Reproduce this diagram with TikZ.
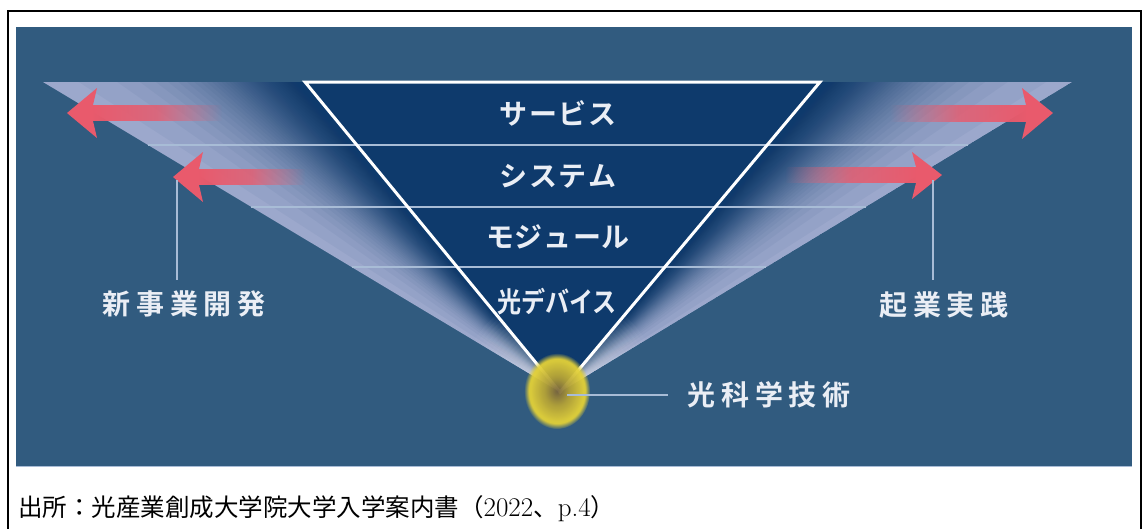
\documentclass[tikz,border=0pt]{standalone}
\usepackage{fontspec}
\usetikzlibrary{fadings}
\newfontfamily\jp{Noto Sans CJK JP}
\IfFontExistsTF{Noto Sans CJK JP Bold}{\newfontfamily\jpb{Noto Sans CJK JP Bold}}{\newfontfamily\jpb{Noto Sans CJK JP}[FakeBold=2]}
\definecolor{panel}{RGB}{49,91,127}
\definecolor{navy}{RGB}{14,58,108}
\definecolor{fanlight}{RGB}{156,168,204}
\definecolor{arrowred}{RGB}{233,90,108}
\definecolor{txt}{RGB}{234,238,245}
\definecolor{divider}{RGB}{168,188,214}
\definecolor{gcen}{RGB}{120,100,60}
\definecolor{gmid}{RGB}{178,160,55}
\definecolor{gring}{RGB}{226,208,56}
\pgfdeclareradialshading{glowshade}{\pgfpoint{0bp}{0bp}}{color(0bp)=(gcen); color(9bp)=(gmid); color(20bp)=(gring); color(50bp)=(gring)}
\tikzfading[name=fadeToRight, left color=transparent!0, right color=transparent!100, middle color=transparent!20]
\tikzfading[name=fadeToLeft, left color=transparent!100, right color=transparent!0, middle color=transparent!20]
\makeatletter
\newcommand\spreadtxt[2]{\@tfor\@ch:=#2\do{\@ch\kern#1}\unkern}
\makeatother
\tikzset{
  lab/.style={text=txt, inner sep=0pt, font=\jpb\fontsize{28}{30}\selectfont},
  leader/.style={draw=divider, line width=1.2pt},
  divline/.style={draw=divider, line width=1.1pt},
  arrowfill/.style={fill=arrowred},
  wedge/.style={fill=navy, fill opacity=0.05},
  lightdisc/.style={fill=white, fill opacity=0.03}
}
\begin{document}
\begin{tikzpicture}[x=1pt,y=-1pt]
\useasboundingbox (0,0) rectangle (1145,528);
\fill[white] (0,0) rectangle (1145,528);
\draw[line width=2pt] (8,11) rectangle (1141,560);
\fill[panel] (16,27) rectangle (1132,466);
\draw[divider, line width=0.8pt] (16,466) -- (1132,466);

\coordinate (A) at (560,392);
\coordinate (TL) at (305,82);
\coordinate (TR) at (820,82);
\coordinate (FL) at (43,82);
\coordinate (FR) at (1072,82);

% left fan
\begin{scope}
\clip (FL) -- (TL) -- (A) -- cycle;
\fill[fanlight] (FL) -- (TL) -- (A) -- cycle;
\foreach \k in {1,...,58}
  \fill[wedge] (A) -- ({305-min(270,55.6*ln(58/\k)+0.5)},82) -- (TL) -- cycle;
\foreach \r in {4,8,...,100}
  \fill[lightdisc] (A) circle (\r);
\end{scope}
% right fan
\begin{scope}
\clip (FR) -- (TR) -- (A) -- cycle;
\fill[fanlight] (FR) -- (TR) -- (A) -- cycle;
\foreach \k in {1,...,58}
  \fill[wedge] (A) -- ({820+min(270,55.6*ln(58/\k)+0.5)},82) -- (TR) -- cycle;
\foreach \r in {4,8,...,100}
  \fill[lightdisc] (A) circle (\r);
\end{scope}

% triangle
\fill[navy] (TL) -- (TR) -- (A) -- cycle;

% dividers
\path (FL) -- (A) coordinate[pos=0.2032] (dl1) coordinate[pos=0.4032] (dl2) coordinate[pos=0.5968] (dl3);
\path (FR) -- (A) coordinate[pos=0.2032] (dr1) coordinate[pos=0.4032] (dr2) coordinate[pos=0.5968] (dr3);
\draw[divline] (dl1) -- (dr1);
\draw[divline] (dl2) -- (dr2);
\draw[divline] (dl3) -- (dr3);

% arrows
\fill[arrowfill] (67,113) -- (97,88) -- (93,105) -- (93,121) -- (97,138) -- cycle;
\fill[arrowfill, path fading=fadeToRight] (92,105) rectangle (222,121);
\fill[arrowfill] (173,177) -- (203,152) -- (199,169) -- (199,185) -- (203,202) -- cycle;
\fill[arrowfill, path fading=fadeToRight] (198,169) rectangle (305,185);
\fill[arrowfill] (1053,113) -- (1022,88) -- (1026,105) -- (1026,122) -- (1022,139) -- cycle;
\fill[arrowfill, path fading=fadeToLeft] (890,105) rectangle (1027,122);
\fill[arrowfill] (942,175) -- (912,152) -- (916,167) -- (916,183) -- (912,199) -- cycle;
\fill[arrowfill, path fading=fadeToLeft] (785,167) rectangle (917,183);

% triangle outline
\draw[white, line width=3pt, line join=miter] (TL) -- (TR) -- (A) -- cycle;

% glow
\shade[shading=glowshade, path fading=circle with fuzzy edge 15 percent, opacity=0.95] (557,391) ellipse [x radius=33, y radius=38];

% labels in triangle
\node[lab] (s1) at (558,113) {\spreadtxt{1.5pt}{サービス}};
\node[lab] (s2) at (558,176) {\spreadtxt{1.5pt}{システム}};
\node[lab] (s3) at (558,237) {\spreadtxt{1pt}{モジュール}};
\node[lab, xscale=0.86] (s4) at (557,302) {光デバイス};

% side labels
\node[lab] (nb) at (184,304) {\spreadtxt{5.6pt}{新事業開発}};
\node[lab] (kj) at (944,305) {\spreadtxt{5.6pt}{起業実践}};
\node[lab] (kk) at (769,395) {\spreadtxt{5.6pt}{光科学技術}};

% leaders
\coordinate (ll0) at (177,180);
\coordinate (ll1) at (177,280);
\coordinate (rl0) at (933,180);
\coordinate (rl1) at (933,280);
\coordinate (gl0) at (567,395);
\coordinate (gl1) at (668,395);
\draw[leader] (ll0) -- (ll1);
\draw[leader] (rl0) -- (rl1);
\draw[leader] (gl0) -- (gl1);

% caption
\node[anchor=west, inner sep=0pt, font=\jp\fontsize{24.5}{27}\selectfont] (cap) at (18,509) {出所：光産業創成大学院大学入学案内書（{\rmfamily\fontsize{27}{27}\selectfont 2022}、{\rmfamily\fontsize{27}{27}\selectfont p.4}）};
\end{tikzpicture}
\end{document}
